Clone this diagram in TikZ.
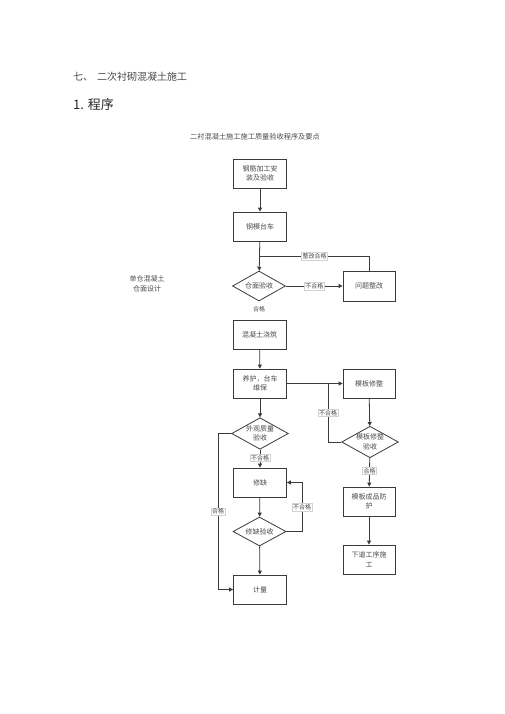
\documentclass[tikz,border=0pt]{standalone}
\usepackage{fontspec}
\setmainfont{Noto Sans CJK SC}
\usetikzlibrary{shapes.geometric,arrows.meta}
\definecolor{ln}{HTML}{3A3A3A}
\definecolor{tx}{HTML}{4A4A4A}
\tikzset{
  boxn/.style={draw=ln,line width=0.8pt,minimum width=53pt,minimum height=29pt,inner sep=1pt,align=center,font=\fontsize{7}{9.5}\selectfont,text=tx},
  dia/.style={draw=ln,line width=0.8pt,diamond,aspect=1.8,minimum width=53pt,minimum height=30pt,inner sep=0pt,align=center,font=\fontsize{7}{9.5}\selectfont,text=tx},
  con/.style={draw=ln,line width=0.8pt},
  arr/.style={con,-{Triangle[length=4pt,width=4pt]}},
  lab/.style={draw=gray!35,fill=white,line width=0.4pt,inner sep=1pt,font=\fontsize{6}{7}\selectfont,text=tx},
  plain/.style={inner sep=0pt,font=\fontsize{7}{9.5}\selectfont,text=tx,align=center}
}
\begin{document}
\begin{tikzpicture}[x=1pt,y=-1pt]
\useasboundingbox (0,0) rectangle (505,714);
\node[anchor=west,inner sep=0pt,font=\fontsize{10}{12}\selectfont,text=tx] (h1) at (73,77) {七、\hspace{4pt}二次衬砌混凝土施工};
\node[anchor=west,inner sep=0pt,font=\fontsize{13}{15}\selectfont,text=black!85] (h2) at (73,105) {1. 程序};
\node[inner sep=0pt,font=\fontsize{7.2}{9}\selectfont,text=tx] (st) at (255,137) {二衬混凝土施工施工质量验收程序及要点};
\node[plain] (side) at (147,284) {单仓混凝土\\仓面设计};

\node[boxn] (b1) at (260,173.5) {钢筋加工安\\装及验收};
\node[boxn] (b2) at (260,226.5) {钢模台车};
\node[dia] (d1) at (259,286) {仓面验收};
\node[boxn,minimum width=52pt,minimum height=30pt] (fix) at (369,286) {问题整改};
\node[plain,font=\fontsize{6}{7}\selectfont] (ok1) at (259,309) {合格};
\node[boxn] (b3) at (259.5,334.5) {混凝土浇筑};
\node[boxn] (b4) at (260,383.5) {养护，台车\\维保};
\node[boxn,minimum width=52pt] (m1) at (369,383.5) {模板修整};
\node[dia,minimum height=31pt] (d3) at (370,442) {模板修整\\验收};
\node[boxn,minimum width=52pt] (m2) at (369,501.5) {模板成品防\\护};
\node[boxn,minimum width=52pt] (m3) at (369,559.5) {下道工序施\\工};
\node[dia,minimum height=31pt] (d2) at (260,433.5) {外观质量\\验收};
\node[boxn] (b5) at (260,482.5) {修缺};
\node[dia,minimum height=29pt] (d4) at (259.5,531.5) {修缺验收};
\node[boxn] (b6) at (260,589.5) {计量};

\coordinate (j1) at (260,256);
\coordinate (j2) at (328,383.5);
\coordinate (c1) at (218,433.5);
\coordinate (c2) at (218,589.5);
\coordinate (c3) at (302,531.5);
\coordinate (c4) at (302,482.5);

\draw[arr] (b1) -- (b2);
\draw[arr] (b2) -- (d1);
\draw[con] (fix.north) |- (j1) node[lab,pos=0.75] {整改合格};
\draw[arr] (d1.east) -- (fix.west) node[lab,midway] {不合格};
\draw[arr] (b3) -- (b4);
\draw[arr] (b4.east) -- (m1.west);
\draw[arr] (m1) -- (d3);
\draw[con] (d3.west) -| (j2) node[lab,pos=0.75] {不合格};
\draw[arr] (d3) -- (m2) node[lab,pos=0.45] {合格};
\draw[arr] (m2) -- (m3);
\draw[arr] (b4) -- (d2);
\draw[arr] (d2) -- (b5) node[lab,pos=0.45] {不合格};
\draw[arr] (b5) -- (d4);
\draw[arr] (d4) -- (b6);
\draw[arr] (d2.west) -- (c1) -- (c2) node[lab,midway] {合格} -- (b6.west);
\draw[arr] (d4.east) -- (c3) -- (c4) node[lab,midway] {不合格} -- (b5.east);
\end{tikzpicture}
\end{document}
